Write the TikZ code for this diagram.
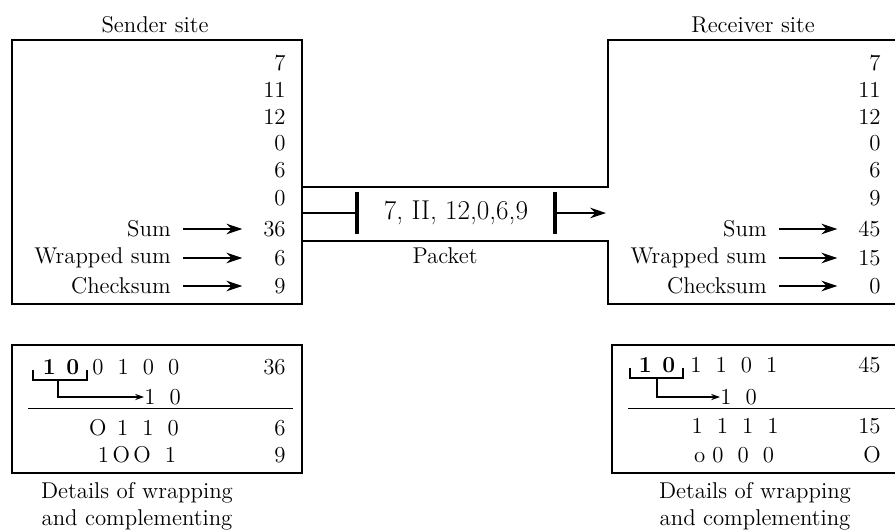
\documentclass[tikz,border=0pt]{standalone}
\usetikzlibrary{arrows.meta,positioning}
\begin{document}
\begin{tikzpicture}[x=0.02cm,y=-0.02cm, every node/.style={font=\fontsize{13}{15}\selectfont, inner sep=0pt},
    num/.style={anchor=east, text width=0.6cm, align=right},
    lbl/.style={anchor=east},
    ptr/.style={-{Stealth[length=9pt,width=6pt]}, line width=1.2pt, shorten <=0.24cm, shorten >=0.26cm},
    carry/.style={-{Stealth[length=5pt,width=3.5pt]}, line width=0.6pt},
    frame/.style={line width=1pt}]
    \useasboundingbox (0,0) rectangle (895,529);

    \draw[frame] (12,40) rectangle (302,304);
    \node (sendtitle) at (155,25) {Sender site};
    \foreach \v/\y [count=\i] in {7/63,11/90,12/117,0/143,6/170,0/198,36/229,6/258,9/286}
        \node[num] (s\i) at (286,\y) {\v};
    \node[lbl] (ssum) at (171,229) {Sum};
    \node[lbl] (swrap) at (171,258) {Wrapped sum};
    \node[lbl] (scheck) at (171,286) {Checksum};
    \draw[ptr] (ssum.east) -- (s7.west);
    \draw[ptr] (swrap.east) -- (s8.west);
    \draw[ptr] (scheck.east) -- (s9.west);

    \draw[frame] (302,187) -- (608,187) -- (608,40) -- (895,40);
    \draw[frame] (302,241) -- (608,241) -- (608,304) -- (895,304);
    \node (recvtitle) at (753,25) {Receiver site};
    \foreach \v/\y [count=\i] in {7/63,11/90,12/117,0/143,6/170,9/198,45/229,15/258,0/286}
        \node[num] (r\i) at (881,\y) {\v};
    \node[lbl] (rsum) at (767,229) {Sum};
    \node[lbl] (rwrap) at (767,258) {Wrapped sum};
    \node[lbl] (rcheck) at (767,286) {Checksum};
    \draw[ptr] (rsum.east) -- (r7.west);
    \draw[ptr] (rwrap.east) -- (r8.west);
    \draw[ptr] (rcheck.east) -- (r9.west);

    \node[minimum width=3.96cm, minimum height=0.84cm, font=\fontsize{15.5}{18}\selectfont] (pkt) at (456,213) {7, II, 12,0,6,9};
    \draw[line width=2.2pt] (pkt.north west) -- (pkt.south west);
    \draw[line width=2.2pt] (pkt.north east) -- (pkt.south east);
    \coordinate (pktin) at (302,213);
    \coordinate (pktout) at (606,213);
    \draw[line width=1.2pt] (pktin) -- (pkt.west);
    \draw[line width=1.2pt, -{Stealth[length=9pt,width=6pt]}] (pkt.east) -- (pktout);
    \node (pktlabel) at (445,256) {Packet};

    \draw[frame] (12,345) rectangle (302,473);
    \node (scarryout) at (61,367) {\textbf{1\hspace{6pt}0}};
    \node[anchor=west] (srest) at (92,367) {0\hspace{8pt}1\hspace{8pt}0\hspace{8pt}0};
    \node[num] (sd1) at (286,367) {36};
    \coordinate (sbrl) at (33,370);
    \coordinate (sbrm) at (58,380);
    \coordinate (sbrr) at (87,370);
    \draw[line width=0.8pt] (sbrl) -- (33,380) -- (87,380) -- (sbrr);
    \node[anchor=west] (scarryin) at (144,397) {1\hspace{8pt}0};
    \draw[carry] (sbrm) |- (scarryin.west);
    \draw (28,408) -- (293,408);
    \node (swrapbits) at (134,428) {O\hspace{6pt}1\hspace{8pt}1\hspace{8pt}0};
    \node[num] (sd2) at (286,428) {6};
    \node (scheckbits) at (137,455) {1\hspace{2pt}O\hspace{2pt}O\hspace{8pt}1};
    \node[num] (sd3) at (286,455) {9};
    \node[align=center, font=\fontsize{13}{15.3}\selectfont] (scap) at (137,506) {Details of wrapping\\and complementing};

    \draw[frame] (895,345) -- (612,345) -- (612,473) -- (895,473);
    \node (rcarryout) at (657,365) {\textbf{1\hspace{6pt}0}};
    \node[anchor=west] (rrest) at (690,365) {1\hspace{8pt}1\hspace{8pt}0\hspace{8pt}1};
    \node[num] (rd1) at (881,365) {45};
    \coordinate (rbrl) at (630,368);
    \coordinate (rbrm) at (657,378);
    \coordinate (rbrr) at (683,368);
    \draw[line width=0.8pt] (rbrl) -- (630,378) -- (683,378) -- (rbrr);
    \node[anchor=west] (rcarryin) at (720,397) {1\hspace{8pt}0};
    \draw[carry] (rbrm) |- (rcarryin.west);
    \draw (628,408) -- (895,408);
    \node (rwrapbits) at (735,426) {1\hspace{8pt}1\hspace{8pt}1\hspace{8pt}1};
    \node[num] (rd2) at (881,426) {15};
    \node (rcheckbits) at (734,455) {o\hspace{4pt}0\hspace{8pt}0\hspace{8pt}0};
    \node[num] (rd3) at (881,455) {O};
    \node[align=center, font=\fontsize{13}{15.3}\selectfont] (rcap) at (755,506) {Details of wrapping\\and complementing};
\end{tikzpicture}
\end{document}
